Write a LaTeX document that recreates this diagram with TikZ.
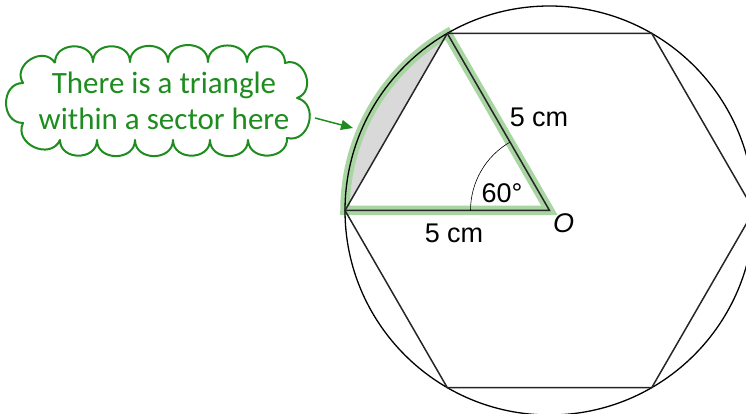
\documentclass[tikz,border=0pt]{standalone}
\usepackage{fontspec}
\setsansfont{Liberation Sans}
\newfontfamily\cloudfont{Carlito}
\usetikzlibrary{arrows.meta,calc}
\definecolor{cgreen}{HTML}{1E8C1E}
\definecolor{hlgreen}{HTML}{A8D5A2}
\definecolor{segfill}{HTML}{D9D9D9}
\begin{document}
\begin{tikzpicture}[x=1pt,y=1pt,
 edge/.style={line width=1.5pt, draw=black!85},
 rim/.style={line width=1.3pt, draw=black},
 hl/.style={draw=hlgreen, line width=9.5pt, line join=miter},
 lbl/.style={font=\sffamily\fontsize{27}{27}\selectfont, inner sep=0pt},
 puffline/.style={draw=cgreen, line width=2pt, line join=round},
 puff/.style={bend left=90, looseness=1.45},
 calltext/.style={inner sep=0pt, align=center, text=cgreen, font=\cloudfont\fontsize{31}{35.5}\selectfont},
 pointer/.style={draw=cgreen, line width=1.5pt, -{Triangle[length=12pt,width=10pt]}}]
\useasboundingbox (0,0) rectangle (746,414);
\clip (0,0) rectangle (746,414);
\coordinate (O) at (549.5,203.5);
\foreach \i in {0,...,5} \coordinate (H\i) at ($(O)+(\i*60:204.5)$);
\fill[segfill] (H3) arc[start angle=180,end angle=120,radius=204.5] -- cycle;
\draw[hl] (H3) arc[start angle=180,end angle=120,radius=204.5] -- (O) -- cycle;
\draw[rim] (O) circle[radius=204.5];
\draw[edge] (H0)--(H1)--(H2)--(H3)--(H4)--(H5)--cycle;
\draw[edge] (H2)--(O)--(H3);
\draw[line width=0.6pt] ($(O)+(180:79)$) arc[start angle=180,end angle=120,radius=79];
\node[lbl] (ang) at (502,221) {60°};
\node[lbl] (s1) at (539,297) {5 cm};
\node[lbl] (s2) at (454,181) {5 cm};
\node[lbl,font=\sffamily\itshape\fontsize{27}{27}\selectfont] (o) at (563.5,191) {O};
% cloud outline (y = 414 - pixel row)
\draw[puffline] (55,351) to[puff] (93,352) to[puff] (130,352) to[puff] (168,352)
  to[puff] (208,352) to[puff] (247,352) to[puff] (285,351)
  to[puff] (297,316) to[puff] (287,276)
  to[puff] (248,274) to[puff] (210,274) to[puff] (173,274) to[puff] (135,274)
  to[puff] (97,274) to[puff] (60,274)
  to[puff] (23,291) to[puff] (23,331) to[puff] (55,351);
\node[calltext] (cl) at (164,313) {There is a triangle\\within a sector here};
\coordinate (tail) at (315,296);
\coordinate (tip) at (353,286);
\draw[pointer] (tail) -- (tip);
\end{tikzpicture}
\end{document}
